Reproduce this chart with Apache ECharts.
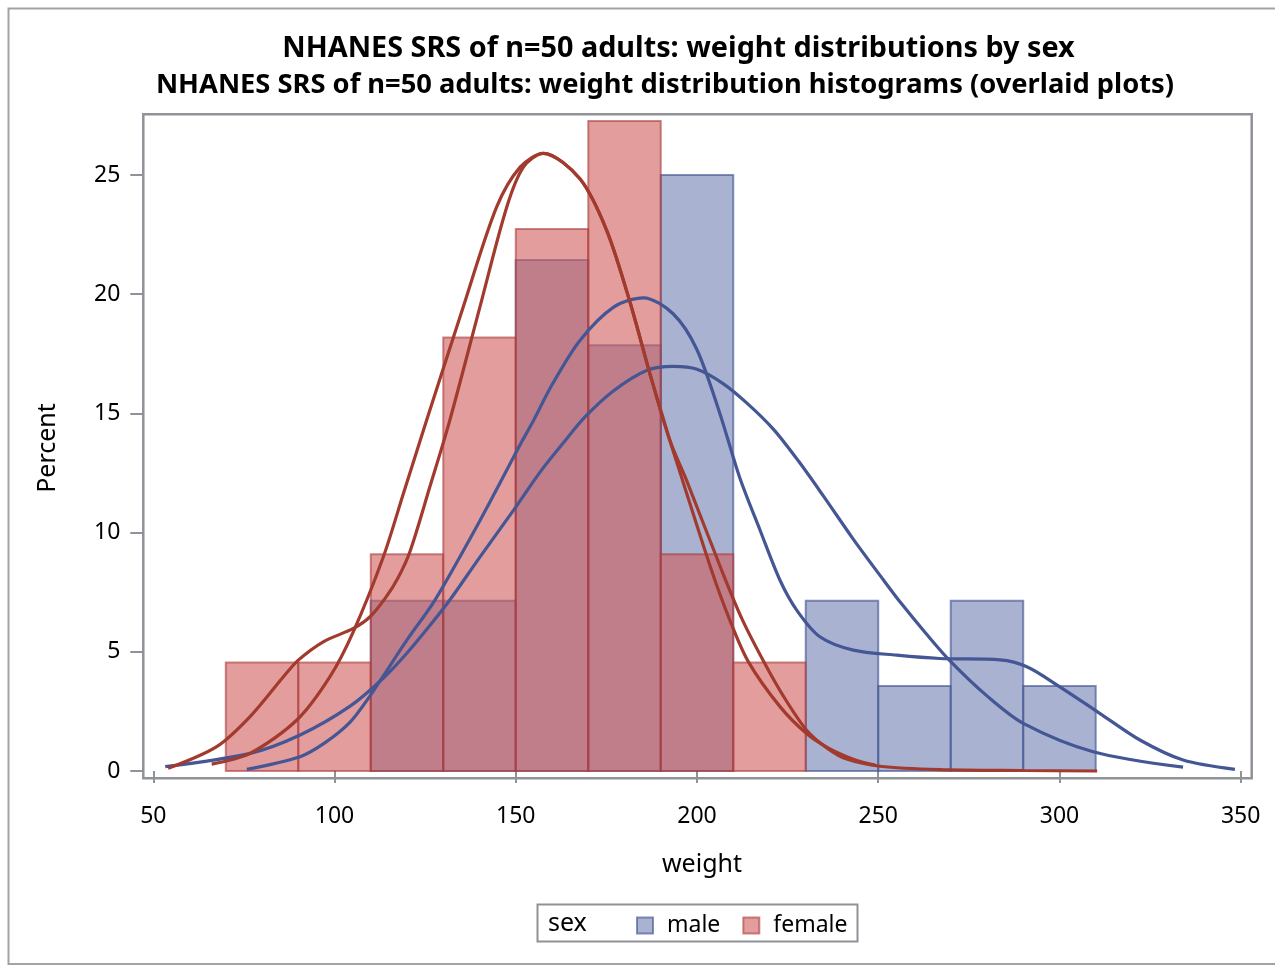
<!DOCTYPE html>
<html>
<head>
<meta charset="utf-8">
<script src="https://cdn.jsdelivr.net/npm/echarts@6/dist/echarts.min.js"></script>
<style>
  html, body { margin: 0; padding: 0; background: #ffffff; }
  #chart { width: 1275px; height: 966px; }
</style>
</head>
<body>
<div id="chart"></div>
<script>
// histogram bins (width 20), percent per bin
var BIN = 20;
var binStart = [70, 90, 110, 130, 150, 170, 190, 210, 230, 250, 270, 290];
var malePct = [0, 0, 7.14, 7.14, 21.43, 17.86, 25, 0, 7.14, 3.57, 7.14, 3.57];
var femalePct = [4.55, 4.55, 9.09, 18.18, 22.73, 27.27, 9.09, 4.55, 0, 0, 0, 0];

// density curves
var maleNormalX = [53.3, 76.7, 90.5, 104.3, 113.5, 120, 126.3, 131.8, 140, 149.4, 157, 163.6, 169.1, 177, 186.1, 193.5, 200, 207.2, 214, 221, 228, 234.8, 243, 251.5, 256.5, 263, 269.8, 280, 290, 309.3, 334.1];
var maleNormalY = [0.18, 0.74, 1.51, 2.72, 3.9, 4.95, 6.1, 7.17, 8.95, 10.94, 12.6, 13.85, 14.85, 15.95, 16.8, 16.97, 16.85, 16.25, 15.4, 14.35, 13.0, 11.55, 9.75, 8.0, 7.0, 5.8, 4.62, 3.15, 2.0, 0.81, 0.16];

var maleKernelX = [75.8, 90.5, 97.5, 104.3, 109.8, 113.5, 120, 127.7, 140.1, 151.6, 154.9, 160, 167.7, 177, 185.2, 193.4, 199.9, 206.3, 211.8, 217.4, 222.9, 227.5, 233.9, 243.1, 255.1, 267, 283.6, 291, 300.1, 311.1, 322.2, 334.1, 348.4];
var maleKernelY = [0.07, 0.6, 1.2, 2.05, 3.15, 4.0, 5.5, 7.17, 10.5, 13.8, 14.7, 16.2, 18.06, 19.46, 19.85, 19.18, 17.7, 15.0, 12.3, 10.1, 8.0, 6.75, 5.63, 5.07, 4.86, 4.72, 4.66, 4.37, 3.53, 2.42, 1.3, 0.46, 0.07];

var femaleNormalX = [66.1, 76.7, 89.6, 98.7, 105.2, 113.5, 119, 125.4, 135.5, 144.7, 151.2, 157.6, 167.7, 175.1, 181.5, 187, 192.5, 196, 204, 209, 214.1, 222.9, 230.3, 236, 241.3, 245, 249.1];
var femaleNormalY = [0.29, 0.74, 2.14, 3.95, 5.85, 9.0, 11.64, 14.71, 19.46, 23.65, 25.33, 25.91, 24.84, 22.67, 19.67, 16.67, 13.87, 12.2, 8.42, 6.35, 4.6, 2.7, 1.56, 0.98, 0.6, 0.4, 0.25];

var femaleKernelX = [54.1, 67.5, 76.7, 85.9, 90, 96.9, 105.2, 109.8, 114, 117.5, 120.8, 126.3, 131.8, 140.1, 147.5, 152.1, 157.6, 167.7, 175.1, 181.5, 187, 192.5, 197.1, 206.8, 212.5, 218.7, 224, 230.3, 236, 241.3, 250.5, 267, 290, 310.4];
var femaleKernelY = [0.11, 1.02, 2.28, 3.95, 4.65, 5.42, 5.98, 6.47, 7.25, 8.1, 9.2, 11.92, 14.71, 19.46, 23.65, 25.33, 25.91, 24.84, 22.67, 19.67, 16.67, 13.87, 12.2, 8.42, 6.35, 4.51, 3.1, 1.7, 0.95, 0.5, 0.2, 0.06, 0.02, 0.0];

var xTicks = [50, 100, 150, 200, 250, 300, 350];
var yTicks = [0, 5, 10, 15, 20, 25];

var FONT = "'Noto Sans', sans-serif";
var BLUE = '#445694';
var RED = '#A23A2E';

function zip(xs, ys) {
  return xs.map(function (x, i) { return [x, ys[i]]; });
}

function histSeries(name, pct, fill, stroke, z) {
  return {
    name: name,
    type: 'custom',
    z: z,
    itemStyle: { color: fill, borderColor: stroke, borderWidth: 1.5 },
    data: zip(binStart, pct),
    renderItem: function (params, api) {
      var x0 = api.value(0);
      var h = api.value(1);
      if (!h) return null;
      var p0 = api.coord([x0, 0]);
      var p1 = api.coord([x0 + BIN, h]);
      return {
        type: 'rect',
        shape: { x: p0[0], y: p1[1], width: p1[0] - p0[0], height: p0[1] - p1[1] },
        style: { fill: fill, stroke: stroke, lineWidth: 2 }
      };
    }
  };
}

function curve(name, xs, ys, color) {
  return {
    name: name,
    type: 'line',
    z: 5,
    data: zip(xs, ys),
    smooth: 0.3,
    showSymbol: false,
    clip: false,
    lineStyle: { color: color, width: 3.2 },
    itemStyle: { color: color }
  };
}

var myChart = echarts.init(document.getElementById('chart'));
var option = {
  animation: false,
  backgroundColor: '#ffffff',
  grid: { left: 153.3, right: 34.3, top: 175, bottom: 195 },
  xAxis: {
    type: 'value',
    min: xTicks[0],
    max: xTicks[xTicks.length - 1],
    interval: 50,
    offset: 7.3,
    axisLine: { show: false },
    axisTick: { show: true, length: 12, lineStyle: { color: '#8f9296', width: 2 } },
    axisLabel: { fontSize: 23, color: '#000', margin: 27, fontFamily: FONT },
    splitLine: { show: false }
  },
  yAxis: {
    type: 'value',
    min: yTicks[0],
    max: yTicks[yTicks.length - 1],
    interval: 5,
    offset: 10,
    axisLine: { show: false },
    axisTick: { show: true, length: 13, lineStyle: { color: '#8f9296', width: 2 } },
    axisLabel: { fontSize: 23, color: '#000', margin: 23, fontFamily: FONT },
    splitLine: { show: false }
  },
  legend: {
    data: ['male', 'female'],
    left: 636,
    top: 914,
    padding: 0,
    icon: 'rect',
    itemWidth: 16,
    itemHeight: 16,
    itemGap: 22,
    textStyle: { fontSize: 23, color: '#000', fontFamily: FONT, padding: [0, 0, 0, 9] }
  },
  graphic: [
    { type: 'rect', z: 0, shape: { x: 8.5, y: 8.5, width: 1290, height: 955.5 },
      style: { fill: null, stroke: '#a3a3a3', lineWidth: 2 } },
    { type: 'rect', z: 1, shape: { x: 143.3, y: 114.3, width: 1108.4, height: 664 },
      style: { fill: null, stroke: '#8f9296', lineWidth: 2.5 } },
    { type: 'text', z: 10, x: 678.5, y: 49,
      style: { text: 'NHANES SRS of n=50 adults: weight distributions by sex', fill: '#000',
        font: 'bold 28.8px ' + FONT, textAlign: 'center', textVerticalAlign: 'middle' } },
    { type: 'text', z: 10, x: 665, y: 85,
      style: { text: 'NHANES SRS of n=50 adults: weight distribution histograms (overlaid plots)', fill: '#000',
        font: 'bold 27.3px ' + FONT, textAlign: 'center', textVerticalAlign: 'middle' } },
    { type: 'text', z: 10, x: 48, y: 448, rotation: Math.PI / 2,
      style: { text: 'Percent', fill: '#000', font: '25px ' + FONT, textAlign: 'center', textVerticalAlign: 'middle' } },
    { type: 'text', z: 10, x: 702, y: 865,
      style: { text: 'weight', fill: '#000', font: '25px ' + FONT, textAlign: 'center', textVerticalAlign: 'middle' } },
    { type: 'rect', z: 10, shape: { x: 537.5, y: 904.5, width: 320, height: 37 },
      style: { fill: null, stroke: '#8f9296', lineWidth: 2 } },
    { type: 'text', z: 10, x: 548, y: 924,
      style: { text: 'sex', fill: '#000', font: '25px ' + FONT, textAlign: 'left', textVerticalAlign: 'middle' } }
  ],
  series: [
    histSeries('male', malePct, 'rgba(111,126,179,0.6)', 'rgba(68,86,148,0.65)', 2),
    histSeries('female', femalePct, 'rgba(208,91,91,0.6)', 'rgba(170,56,56,0.6)', 3),
    curve('male normal', maleNormalX, maleNormalY, BLUE),
    curve('male kernel', maleKernelX, maleKernelY, BLUE),
    curve('female normal', femaleNormalX, femaleNormalY, RED),
    curve('female kernel', femaleKernelX, femaleKernelY, RED)
  ]
};

option && myChart.setOption(option);
</script>
</body>
</html>
